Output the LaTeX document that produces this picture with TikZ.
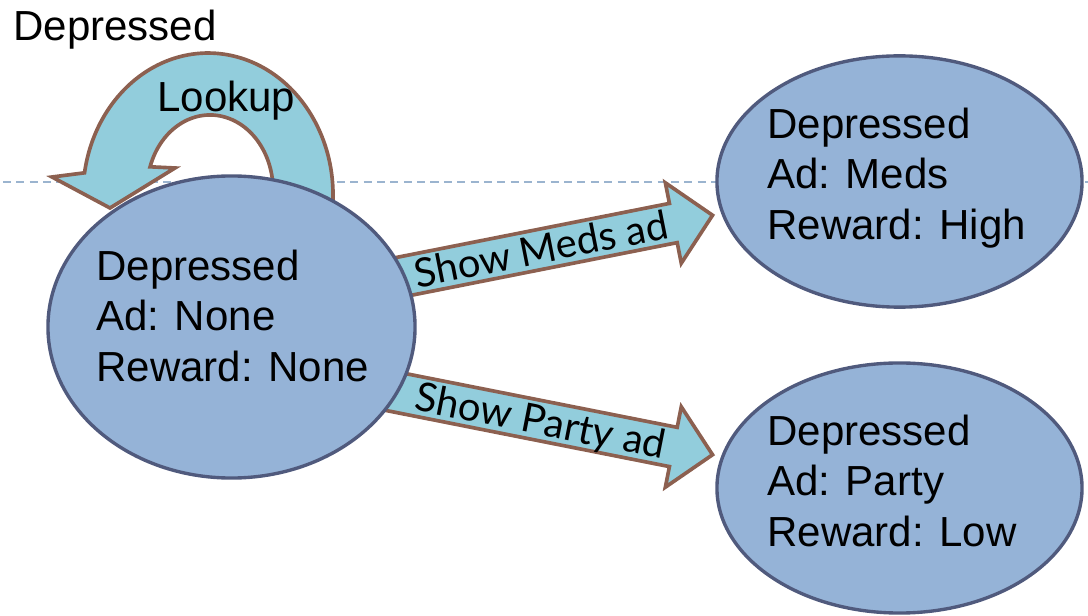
\documentclass[tikz,border=0pt]{standalone}
\usepackage{fontspec}
\setmainfont{Liberation Sans}
\newfontfamily\labelfont{Lato}
\usetikzlibrary{shapes.geometric}

\definecolor{statefill}{RGB}{149,179,215}
\definecolor{stateline}{RGB}{80,90,125}
\definecolor{arrowfill}{RGB}{146,205,220}
\definecolor{arrowline}{RGB}{140,96,80}
\definecolor{guideline}{RGB}{155,180,207}

\tikzset{
	state/.style={ellipse, draw=stateline, fill=statefill, line width=2.4pt, inner sep=0pt},
	statetext/.style={anchor=north west, align=left, inner sep=0pt, font=\fontsize{29.9}{36}\selectfont},
	bigtext/.style={anchor=base west, inner sep=0pt, font=\fontsize{29.9}{36}\selectfont},
	fatarrow/.style={draw=arrowline, fill=arrowfill, line width=2.6pt, line join=miter},
	arrowlabel/.style={anchor=base, inner sep=0pt, font=\labelfont\fontsize{28.5}{30}\selectfont}
}

\begin{document}
\begin{tikzpicture}[x=0.025cm, y=0.025cm]
		\useasboundingbox (0,0) rectangle (1088,-616);
		
		% dashed guide line, behind everything
		\draw [guideline, line width=1.4pt, dash pattern=on 5.7pt off 3.8pt] (3,-182) -- (1088,-182);
		
		% ends of the two fat arrows
		\coordinate (m0) at (330,-291);
		\coordinate (p0) at (330,-379);
		
		% self loop
		\draw [fatarrow] (331.1,-219.7) arc (-10:171:125 and 142)
			-- (52,-177) -- (110,-208) -- (175,-168)
			-- (150.1,-166.8) arc (162:-10:63 and 75) -- cycle;
		
		\begin{scope}[shift={(m0)}, rotate=11.2]
			\draw [fatarrow] (0,-20) -- (350,-20) -- (350,-41) -- (390,0)
				-- (350,41) -- (350,20) -- (0,20) -- cycle;
			\node (meds) [arrowlabel, rotate=11.2] at (215,-14) {Show Meds ad};
		\end{scope}
		
		\begin{scope}[shift={(p0)}, rotate=-11.2]
			\draw [fatarrow] (0,-20) -- (350,-20) -- (350,-41) -- (390,0)
				-- (350,41) -- (350,20) -- (0,20) -- cycle;
			\node (party) [arrowlabel, rotate=-11.2] at (215,-14) {Show Party ad};
		\end{scope}
		
		\node (q0) 
			[state, minimum width=9.175cm, minimum height=7.55cm] at (231.5,-327) {};
		\node (q1) 
			[state, minimum width=9.125cm, minimum height=6.28cm] at (899.5,-181.5) {};
		\node (q2) 
			[state, minimum width=9.125cm, minimum height=6.25cm] at (899.5,-488) {};
		
		\node (q0text) [statetext] at (96,-249.5) {Depressed\\Ad: None\\Reward: None};
		\node (q1text) [statetext] at (767,-107.5) {Depressed\\Ad: Meds\\Reward: High};
		\node (q2text) [statetext] at (767,-414.5) {Depressed\\Ad: Party\\Reward: Low};
		
		\node (title) [bigtext] at (13,-41) {Depressed};
		\node (lookup) [bigtext] at (157,-112) {Lookup};
	\end{tikzpicture}
\end{document}
